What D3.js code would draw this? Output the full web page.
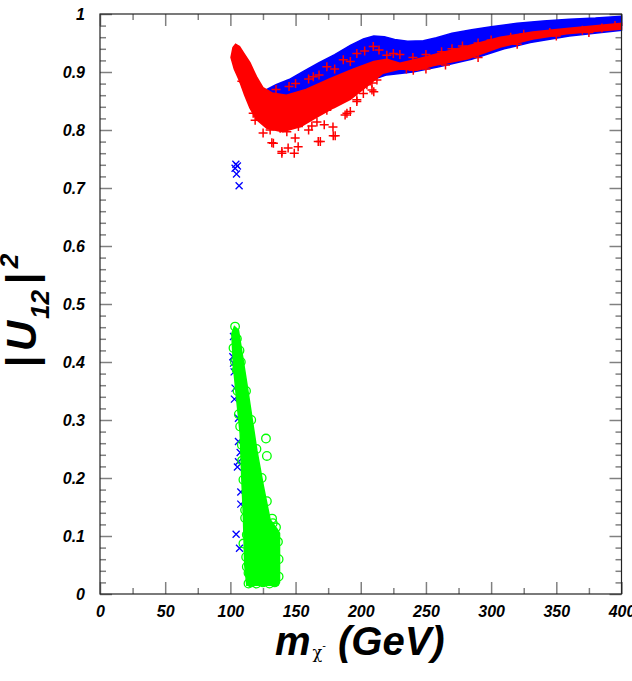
<!DOCTYPE html>
<html>
<head>
<meta charset="utf-8">
<script src="https://cdn.jsdelivr.net/npm/d3@7"></script>
<style>
  body { margin: 0; background: #fff; }
  svg { display: block; }
  .tick text { font-family: "Liberation Sans", Arial, sans-serif; font-weight: bold; font-style: italic; font-size: 16px; fill: #000; }
  .tick line { stroke: #808080; stroke-width: 1.5; }
  .title { font-family: "Liberation Sans", Arial, sans-serif; font-weight: bold; font-style: italic; fill: #000; }
</style>
</head>
<body>
<div id="chart"></div>
<script>
/* CONSTANTS */
const width = 632, height = 681;
const margin = { top: 14, right: 10.5, bottom: 87, left: 100 };

/* DATA (m_chi in GeV, |U12|^2) */
// tick labels
const xMajor = [0, 50, 100, 150, 200, 250, 300, 350, 400];
const xTickLabels = ["0", "50", "100", "150", "200", "250", "300", "350", "400"];
const xMinor = [25, 75, 125, 175, 225, 275, 325, 375];
const yMajor = [0, 0.1, 0.2, 0.3, 0.4, 0.5, 0.6, 0.7, 0.8, 0.9, 1];
const yTickLabels = ["0", "0.1", "0.2", "0.3", "0.4", "0.5", "0.6", "0.7", "0.8", "0.9", "1"];

// blue band (dense x markers) : upper and lower edge
const blueUpper = [[128,0.870],[135,0.878],[145,0.887],[156,0.901],[168,0.916],[180,0.930],[192,0.946],
  [202,0.957],[210,0.962],[218,0.961],[226,0.956],[236,0.953],[248,0.954],[258,0.959],[270,0.967],
  [285,0.973],[300,0.978],[320,0.984],[340,0.988],[360,0.991],[380,0.993],[400,0.996]];
const blueLower = [[128,0.845],[140,0.820],[160,0.830],[180,0.855],[200,0.880],[220,0.895],[240,0.900],
  [260,0.909],[285,0.922],[310,0.940],[330,0.951],[360,0.962],[400,0.972]];
// isolated blue x markers
const blueSingles = [[104.2,0.741],[105.4,0.738],[103.6,0.734],[104.7,0.724],[106.7,0.704],
  [102.4,0.444],[101.9,0.409],[102.4,0.398],[102.9,0.383],[103.6,0.355],[103.1,0.336],[106.2,0.303],
  [106.2,0.263],[107.5,0.244],[106.2,0.228],[105.4,0.219],[108,0.176],[108,0.155],[104.4,0.103],[107,0.079]];

// red band (dense + markers) : upper and lower edge of the solid core
const redUpper = [[100.5,0.925],[102,0.942],[104,0.948],[107,0.944],[111,0.930],[115,0.916],[120,0.892],
  [125,0.873],[132,0.864],[143,0.860],[158,0.870],[176,0.888],[194,0.905],[210,0.918],[220,0.922],
  [230,0.915],[243,0.922],[256,0.930],[282,0.945],[307,0.960],[332,0.969],[358,0.975],[400,0.984]];
const redLower = [[100.5,0.925],[103,0.905],[107,0.885],[111,0.860],[115,0.838],[120,0.818],[128,0.803],
  [140,0.797],[154,0.806],[166,0.822],[179,0.838],[192,0.853],[205,0.876],[217,0.898],[230,0.905],
  [243,0.903],[256,0.911],[282,0.923],[307,0.943],[332,0.957],[358,0.966],[400,0.974]];
// red + markers outside the core
const redSingles = [[108.8,0.884],[110,0.883],[117.5,0.829],[117.5,0.849],[119,0.817],[120.3,0.840],
  [122.8,0.823],[125.1,0.795],[128,0.834],[130.5,0.800],[131.8,0.778],[133,0.777],[138.2,0.826],
  [138.2,0.803],[139.5,0.760],[139.5,0.763],[143.3,0.797],[144.3,0.769],[147.2,0.829],[149,0.760],
  [149.7,0.786],[152,0.771],[152.2,0.806],[156,0.834],[158.7,0.820],[160,0.800],[162.5,0.807],
  [163.8,0.840],[166.4,0.814],[167.4,0.780],[169,0.780],[172,0.809],[174,0.834],[178.7,0.805],
  [178.9,0.790],[180.4,0.790],[188,0.826],[189.4,0.829],[192,0.832],[197,0.852],[197,0.849],
  [202,0.863],[204.7,0.878],[208.6,0.869],[208.6,0.881],[210,0.866],[212.4,0.886],[240.3,0.903],
  [135,0.870],[145,0.875],[150,0.880],[160,0.888],[163.6,0.892],[168,0.895],[174,0.909],[180,0.905],
  [186.6,0.921],[192,0.918],[197,0.932],[203,0.936],[209.6,0.944],[214,0.938],[220,0.929],[225,0.932],
  [230,0.930],[240,0.925],[250,0.930],[262,0.935],[270,0.940],[278,0.945],[290,0.950],[300,0.955],
  [315,0.960],[325,0.965],[345,0.968],[370,0.972],[385,0.976],[395,0.980],
  [235,0.905],[250,0.905],[265,0.912],[290,0.925],[320,0.948],[350,0.962],[375,0.968]];

// green cluster (dense open circles) : outline and edge circles
const greenOutline = [[103.1,0.461],[106.2,0.455],[112.6,0.363],[120.3,0.248],[125.4,0.185],[130.5,0.128],
  [135.7,0.112],[137.7,0.105],[137.7,0.020],[136.5,0.015],[112.6,0.015],[111,0.050],[110,0.133],
  [108.8,0.197],[107.5,0.277],[104.9,0.334],[102.4,0.392],[101.1,0.449]];
const greenSingles = [[103.6,0.461],[102.4,0.424],[104.9,0.386],[103.5,0.400],[105.5,0.350],[106.5,0.310],
  [107.5,0.289],[108.8,0.257],[109,0.230],[110,0.197],[111.3,0.145],[111.3,0.131],[112.6,0.102],
  [110,0.087],[112.1,0.064],[112.6,0.047],[113.9,0.036],[113.9,0.018],[116,0.020],[120,0.018],
  [125,0.020],[130,0.018],[134,0.020],[137,0.030],[137,0.060],[136.5,0.090],[132.5,0.122],
  [127.3,0.268],[128,0.238],[105,0.440],[107,0.420],[108,0.400],[112,0.350],[116,0.300],[120,0.250],
  [124,0.200],[128,0.160],[132,0.130],[135,0.115]];

/* SCALES */
const xScale = d3.scaleLinear().domain([0, 400]).range([margin.left, width - margin.right]);
const yScale = d3.scaleLinear().domain([0, 1]).range([height - margin.bottom, margin.top]);

const svg = d3.select("#chart").append("svg")
  .attr("width", width)
  .attr("height", height);

/* AXES: ticks inward on all four sides */
const x0 = xScale.range()[0], x1 = xScale.range()[1];
const y0 = yScale.range()[0], y1 = yScale.range()[1];
const yMinor = d3.range(0.02, 1, 0.02).filter(v => Math.abs(v * 10 - Math.round(v * 10)) > 0.01);

function clean(g) { g.select(".domain").remove(); }

svg.append("g").attr("transform", `translate(0,${y0})`)
  .call(d3.axisBottom(xScale).tickValues(xMajor).tickFormat((d, i) => xTickLabels[i]).tickSize(-12).tickPadding(12))
  .call(clean);
svg.append("g").attr("transform", `translate(0,${y0})`)
  .call(d3.axisBottom(xScale).tickValues(xMinor).tickFormat("").tickSize(-6))
  .call(clean);
svg.append("g").attr("transform", `translate(0,${y1})`)
  .call(d3.axisTop(xScale).tickValues(xMajor).tickFormat("").tickSize(-12))
  .call(clean);
svg.append("g").attr("transform", `translate(0,${y1})`)
  .call(d3.axisTop(xScale).tickValues(xMinor).tickFormat("").tickSize(-6))
  .call(clean);

svg.append("g").attr("transform", `translate(${x0},0)`)
  .call(d3.axisLeft(yScale).tickValues(yMajor).tickFormat((d, i) => yTickLabels[i]).tickSize(-12).tickPadding(15))
  .call(clean);
svg.append("g").attr("transform", `translate(${x0},0)`)
  .call(d3.axisLeft(yScale).tickValues(yMinor).tickFormat("").tickSize(-6))
  .call(clean);
svg.append("g").attr("transform", `translate(${x1},0)`)
  .call(d3.axisRight(yScale).tickValues(yMajor).tickFormat("").tickSize(-12))
  .call(clean);
svg.append("g").attr("transform", `translate(${x1},0)`)
  .call(d3.axisRight(yScale).tickValues(yMinor).tickFormat("").tickSize(-6))
  .call(clean);

/* MARKS */
const poly = d3.line().x(d => xScale(d[0])).y(d => yScale(d[1])).curve(d3.curveLinearClosed);

// blue band
svg.append("path")
  .attr("d", poly(blueUpper.concat(blueLower.slice().reverse())))
  .attr("fill", "#0000ff")
  .attr("stroke", "#0000ff")
  .attr("stroke-width", 1.5);

const cross = s => `M${-s},${-s}L${s},${s}M${-s},${s}L${s},${-s}`;
const plus = s => `M${-s},0L${s},0M0,${-s}L0,${s}`;

svg.selectAll("path.bluex")
  .data(blueSingles)
  .join("path")
  .attr("class", "bluex")
  .attr("transform", d => `translate(${xScale(d[0])},${yScale(d[1])})`)
  .attr("d", cross(3.5))
  .attr("stroke", "#0000ff")
  .attr("stroke-width", 1.3)
  .attr("fill", "none");

// red band
svg.append("path")
  .attr("d", poly(redUpper.concat(redLower.slice().reverse())))
  .attr("fill", "#ff0000")
  .attr("stroke", "#ff0000")
  .attr("stroke-width", 1.5);

svg.selectAll("path.redp")
  .data(redSingles)
  .join("path")
  .attr("class", "redp")
  .attr("transform", d => `translate(${xScale(d[0])},${yScale(d[1])})`)
  .attr("d", plus(4.5))
  .attr("stroke", "#ff0000")
  .attr("stroke-width", 1.5)
  .attr("fill", "none");

// green cluster
svg.append("path")
  .attr("d", poly(greenOutline))
  .attr("fill", "#00ff00")
  .attr("stroke", "#00ff00")
  .attr("stroke-width", 1.5);

svg.selectAll("circle.greeno")
  .data(greenSingles)
  .join("circle")
  .attr("class", "greeno")
  .attr("cx", d => xScale(d[0]))
  .attr("cy", d => yScale(d[1]))
  .attr("r", 4.3)
  .attr("fill", "none")
  .attr("stroke", "#00ff00")
  .attr("stroke-width", 1.3);

/* FRAME */
svg.append("rect")
  .attr("x", x0).attr("y", y1)
  .attr("width", x1 - x0).attr("height", y0 - y1)
  .attr("fill", "none")
  .attr("stroke", "#222")
  .attr("stroke-width", 1.2);

/* AXIS TITLES */
const xTitle = svg.append("text")
  .attr("class", "title")
  .attr("x", 275)
  .attr("y", 655)
  .attr("font-size", 40);
xTitle.append("tspan").text("m");
xTitle.append("tspan").text("χ")
  .attr("font-size", 16).attr("font-weight", "normal").attr("font-style", "normal")
  .attr("font-family", "DejaVu Serif, serif").attr("dx", 2).attr("dy", 3);
xTitle.append("tspan").text("-")
  .attr("font-size", 11).attr("font-weight", "normal").attr("font-style", "normal").attr("dy", -9);
xTitle.append("tspan").text("(GeV)").attr("x", 338).attr("dy", 6);

const yTitle = svg.append("text")
  .attr("class", "title")
  .attr("transform", "translate(36,368) rotate(-90)")
  .attr("font-size", 42);
yTitle.append("tspan").text("|");
yTitle.append("tspan").text("U").attr("dx", 5);
yTitle.append("tspan").text("12").attr("font-size", 26).attr("dx", 2).attr("dy", 13);
yTitle.append("tspan").text("|").attr("dx", 5).attr("dy", -13);
yTitle.append("tspan").text("2").attr("font-size", 26).attr("dx", 5).attr("dy", -18);
</script>
</body>
</html>
